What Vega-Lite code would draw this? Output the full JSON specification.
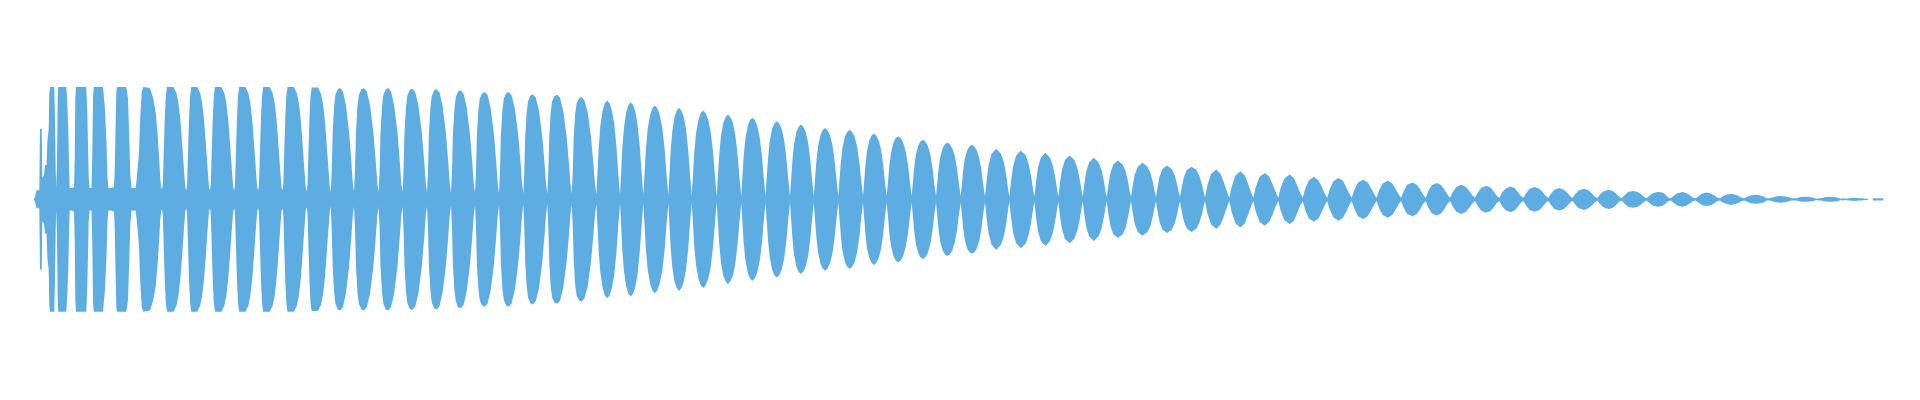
{
"$schema": "https://vega.github.io/schema/vega-lite/v6.json",
"width": 1920, "height": 400,
"autosize": {"type": "fit", "contains": "padding"},
"padding": 0,
"background": "white",
"config": {"view": {"stroke": null}},
"data": {"values": [
{"t":34,"v":0.01},{"t":35,"v":0.04},{"t":36.5,"v":0.16},{"t":39.3,"v":0.16},{"t":40,"v":1.25},{"t":41.7,"v":1.25},{"t":42.3,"v":0.39},{"t":44,"v":0.43},{"t":45,"v":0.61},{"t":46.5,"v":0.61},{"t":47.5,"v":1.07},{"t":48.7,"v":1.25},{"t":49.3,"v":1.88},{"t":50,"v":2},{"t":54.3,"v":2},{"t":55,"v":1.43},{"t":55.7,"v":0.54},{"t":56.3,"v":0.2},
{"t":57,"v":0.71},{"t":57.7,"v":1.79},{"t":58.3,"v":2},{"t":66.3,"v":2},{"t":67.3,"v":1.71},{"t":68.3,"v":1.25},{"t":69,"v":0.63},{"t":69.7,"v":0.2},{"t":72,"v":0.2},{"t":74,"v":0.22},
{"t":74.7,"v":0.71},{"t":75.3,"v":1.79},{"t":76,"v":2},{"t":86.3,"v":2},{"t":87.2,"v":1.6},{"t":88,"v":1},{"t":88.7,"v":0.4},{"t":89.5,"v":0.2},{"t":91.5,"v":0.2},
{"t":92.3,"v":0.8},{"t":93,"v":1.79},{"t":93.7,"v":2},{"t":103,"v":2},{"t":105,"v":1.6},{"t":106.5,"v":1},{"t":107.5,"v":0.4},{"t":108.3,"v":0.2},{"t":111,"v":0.2},{"t":114,"v":0.22},
{"t":114.7,"v":0.5},{"t":115.5,"v":1.25},{"t":116.3,"v":1.91},{"t":117,"v":2},{"t":126.3,"v":2},{"t":128,"v":1.79},{"t":129.3,"v":1.07},{"t":130.3,"v":0.45},{"t":131.5,"v":0.2},{"t":133.5,"v":0.2},{"t":135.5,"v":0.2},
{"t":136.7,"v":0.36},{"t":139,"v":0.84},{"t":140,"v":1.38},{"t":141.7,"v":1.91},{"t":143.3,"v":2},{"t":150,"v":1.98},{"t":153.3,"v":1.79},{"t":155.7,"v":1.55},{"t":157.7,"v":1.13},{"t":159,"v":0.77},{"t":160.3,"v":0.36},{"t":161.3,"v":0.2},{"t":162,"v":0.18},
{"t":162.8,"v":0.27},{"t":163.8,"v":0.89},{"t":164.8,"v":1.46},{"t":165.8,"v":1.84},{"t":167,"v":2},{"t":173.5,"v":2},{"t":176.5,"v":1.89},{"t":178.5,"v":1.71},{"t":180.5,"v":1.39},{"t":182.2,"v":0.98},{"t":183.8,"v":0.57},{"t":185.3,"v":0.21},{"t":186.3,"v":0.16},
{"t":187.1,"v":0.27},{"t":188.1,"v":0.89},{"t":189.1,"v":1.46},{"t":190.1,"v":1.84},{"t":191.3,"v":2},{"t":197.2,"v":2},{"t":200.2,"v":1.89},{"t":202.2,"v":1.71},{"t":204.2,"v":1.39},{"t":205.9,"v":0.98},{"t":207.5,"v":0.57},{"t":209,"v":0.21},{"t":210,"v":0.16},
{"t":210.8,"v":0.27},{"t":211.8,"v":0.89},{"t":212.8,"v":1.46},{"t":213.8,"v":1.84},{"t":215,"v":2},{"t":221.4,"v":2},{"t":224.4,"v":1.89},{"t":226.4,"v":1.71},{"t":228.4,"v":1.39},{"t":230.1,"v":0.98},{"t":231.7,"v":0.57},{"t":233.2,"v":0.21},{"t":234.2,"v":0.16},
{"t":235,"v":0.27},{"t":236,"v":0.89},{"t":237,"v":1.46},{"t":238,"v":1.84},{"t":239.2,"v":2},{"t":245.4,"v":2},{"t":248.4,"v":1.89},{"t":250.4,"v":1.71},{"t":252.4,"v":1.39},{"t":254.1,"v":0.98},{"t":255.7,"v":0.57},{"t":257.2,"v":0.21},{"t":258.2,"v":0.16},
{"t":259,"v":0.27},{"t":260,"v":0.89},{"t":261,"v":1.46},{"t":262,"v":1.84},{"t":263.2,"v":2},{"t":269.7,"v":2},{"t":272.7,"v":1.89},{"t":274.7,"v":1.71},{"t":276.7,"v":1.39},{"t":278.4,"v":0.98},{"t":280,"v":0.57},{"t":281.5,"v":0.21},{"t":282.5,"v":0.16},
{"t":283.3,"v":0.27},{"t":284.3,"v":0.89},{"t":285.3,"v":1.46},{"t":286.3,"v":1.84},{"t":287.5,"v":2},{"t":293.9,"v":2},{"t":296.9,"v":1.89},{"t":298.9,"v":1.71},{"t":300.9,"v":1.39},{"t":302.6,"v":0.98},{"t":304.2,"v":0.57},{"t":305.7,"v":0.21},{"t":306.7,"v":0.14},
{"t":307.5,"v":0.27},{"t":308.5,"v":0.89},{"t":309.5,"v":1.46},{"t":310.5,"v":1.84},{"t":311.7,"v":1.99},{"t":318,"v":1.99},{"t":321,"v":1.88},{"t":323,"v":1.7},{"t":325,"v":1.38},{"t":326.7,"v":0.97},{"t":328.3,"v":0.57},{"t":329.8,"v":0.21},{"t":330.8,"v":0.13},
{"t":331.7,"v":0.52},{"t":332.7,"v":1.19},{"t":334.1,"v":1.65},{"t":335.4,"v":1.86},{"t":337.8,"v":1.96},{"t":340.1,"v":1.98},{"t":342.9,"v":1.92},{"t":345.9,"v":1.68},{"t":349.1,"v":1.19},{"t":351.2,"v":0.71},{"t":352.8,"v":0.28},{"t":354,"v":0.13},
{"t":355,"v":0.52},{"t":356,"v":1.19},{"t":357.4,"v":1.65},{"t":358.9,"v":1.86},{"t":361.4,"v":1.96},{"t":363.8,"v":1.98},{"t":366.8,"v":1.92},{"t":370,"v":1.68},{"t":373.4,"v":1.19},{"t":375.6,"v":0.71},{"t":377.4,"v":0.28},{"t":378.6,"v":0.13},
{"t":379.6,"v":0.52},{"t":380.5,"v":1.19},{"t":382,"v":1.65},{"t":383.4,"v":1.86},{"t":385.8,"v":1.96},{"t":388.2,"v":1.98},{"t":391,"v":1.92},{"t":394.1,"v":1.68},{"t":397.5,"v":1.19},{"t":399.6,"v":0.71},{"t":401.3,"v":0.28},{"t":402.5,"v":0.13},
{"t":403.5,"v":0.51},{"t":404.5,"v":1.18},{"t":405.9,"v":1.63},{"t":407.4,"v":1.85},{"t":409.9,"v":1.95},{"t":412.3,"v":1.97},{"t":415.2,"v":1.91},{"t":418.4,"v":1.67},{"t":421.9,"v":1.18},{"t":424.1,"v":0.71},{"t":425.8,"v":0.28},{"t":427,"v":0.13},
{"t":428,"v":0.51},{"t":428.9,"v":1.17},{"t":430.4,"v":1.62},{"t":431.8,"v":1.84},{"t":434.2,"v":1.94},{"t":436.6,"v":1.96},{"t":439.5,"v":1.9},{"t":442.6,"v":1.66},{"t":446,"v":1.17},{"t":448.1,"v":0.7},{"t":449.8,"v":0.27},{"t":451,"v":0.12},
{"t":452,"v":0.5},{"t":452.9,"v":1.16},{"t":454.4,"v":1.61},{"t":455.8,"v":1.82},{"t":458.2,"v":1.92},{"t":460.6,"v":1.94},{"t":463.5,"v":1.88},{"t":466.6,"v":1.65},{"t":470,"v":1.16},{"t":472.1,"v":0.7},{"t":473.8,"v":0.27},{"t":475,"v":0.12},
{"t":476,"v":0.5},{"t":476.9,"v":1.15},{"t":478.4,"v":1.59},{"t":479.8,"v":1.8},{"t":482.2,"v":1.89},{"t":484.6,"v":1.91},{"t":487.5,"v":1.86},{"t":490.6,"v":1.63},{"t":494,"v":1.15},{"t":496.1,"v":0.69},{"t":497.8,"v":0.27},{"t":499,"v":0.11},
{"t":500,"v":0.5},{"t":500.9,"v":1.15},{"t":502.4,"v":1.59},{"t":503.9,"v":1.8},{"t":506.3,"v":1.89},{"t":508.7,"v":1.91},{"t":511.6,"v":1.85},{"t":514.8,"v":1.62},{"t":518.2,"v":1.15},{"t":520.4,"v":0.69},{"t":522.1,"v":0.27},{"t":523.3,"v":0.1},
{"t":524.3,"v":0.49},{"t":525.2,"v":1.12},{"t":526.7,"v":1.55},{"t":528.1,"v":1.75},{"t":530.5,"v":1.85},{"t":532.9,"v":1.87},{"t":535.8,"v":1.81},{"t":538.9,"v":1.59},{"t":542.3,"v":1.12},{"t":544.4,"v":0.67},{"t":546.1,"v":0.26},{"t":547.3,"v":0.1},
{"t":548.3,"v":0.48},{"t":549.3,"v":1.12},{"t":550.7,"v":1.55},{"t":552.2,"v":1.75},{"t":554.6,"v":1.84},{"t":557.1,"v":1.86},{"t":560,"v":1.81},{"t":563.2,"v":1.58},{"t":566.6,"v":1.12},{"t":568.8,"v":0.67},{"t":570.5,"v":0.26},{"t":571.7,"v":0.1},
{"t":572.7,"v":0.47},{"t":573.7,"v":1.09},{"t":575.1,"v":1.51},{"t":576.6,"v":1.71},{"t":579.1,"v":1.8},{"t":581.5,"v":1.82},{"t":584.5,"v":1.76},{"t":587.7,"v":1.55},{"t":591.1,"v":1.09},{"t":593.3,"v":0.65},{"t":595.1,"v":0.25},{"t":596.3,"v":0.09},
{"t":597.5,"v":0.49},{"t":598.7,"v":0.91},{"t":600.3,"v":1.3},{"t":602.7,"v":1.58},{"t":604.8,"v":1.71},{"t":607.2,"v":1.76},{"t":609.6,"v":1.71},{"t":611.9,"v":1.58},{"t":614.3,"v":1.34},{"t":616.4,"v":0.95},{"t":618.3,"v":0.46},{"t":620,"v":0.08},
{"t":621.2,"v":0.48},{"t":622.3,"v":0.9},{"t":624,"v":1.28},{"t":626.3,"v":1.56},{"t":628.4,"v":1.68},{"t":630.7,"v":1.73},{"t":633.1,"v":1.68},{"t":635.4,"v":1.56},{"t":637.7,"v":1.31},{"t":639.8,"v":0.93},{"t":641.7,"v":0.45},{"t":643.3,"v":0.08},
{"t":644.6,"v":0.47},{"t":645.8,"v":0.87},{"t":647.6,"v":1.24},{"t":650.1,"v":1.5},{"t":652.3,"v":1.62},{"t":654.8,"v":1.67},{"t":657.3,"v":1.62},{"t":659.8,"v":1.5},{"t":662.3,"v":1.27},{"t":664.6,"v":0.9},{"t":666.6,"v":0.43},{"t":668.3,"v":0.08},
{"t":669.5,"v":0.46},{"t":670.6,"v":0.85},{"t":672.3,"v":1.21},{"t":674.6,"v":1.47},{"t":676.7,"v":1.58},{"t":679.1,"v":1.63},{"t":681.4,"v":1.58},{"t":683.7,"v":1.47},{"t":686.1,"v":1.24},{"t":688.2,"v":0.88},{"t":690.1,"v":0.42},{"t":691.7,"v":0.07},
{"t":693,"v":0.44},{"t":694.2,"v":0.82},{"t":696,"v":1.17},{"t":698.5,"v":1.42},{"t":700.7,"v":1.53},{"t":703.2,"v":1.58},{"t":705.7,"v":1.53},{"t":708.2,"v":1.42},{"t":710.7,"v":1.2},{"t":713,"v":0.85},{"t":715,"v":0.41},{"t":716.7,"v":0.06},
{"t":717.9,"v":0.42},{"t":719.2,"v":0.78},{"t":720.9,"v":1.12},{"t":723.3,"v":1.36},{"t":725.5,"v":1.46},{"t":728,"v":1.51},{"t":730.4,"v":1.46},{"t":732.9,"v":1.36},{"t":735.3,"v":1.15},{"t":737.5,"v":0.81},{"t":739.5,"v":0.39},{"t":741.2,"v":0.06},
{"t":742.4,"v":0.41},{"t":743.6,"v":0.75},{"t":745.3,"v":1.07},{"t":747.8,"v":1.31},{"t":750,"v":1.41},{"t":752.4,"v":1.45},{"t":754.8,"v":1.41},{"t":757.2,"v":1.31},{"t":759.7,"v":1.1},{"t":761.9,"v":0.78},{"t":763.8,"v":0.38},{"t":765.5,"v":0.06},
{"t":766.7,"v":0.39},{"t":768,"v":0.72},{"t":769.7,"v":1.03},{"t":772.1,"v":1.25},{"t":774.3,"v":1.35},{"t":776.8,"v":1.39},{"t":779.2,"v":1.35},{"t":781.7,"v":1.25},{"t":784.1,"v":1.06},{"t":786.3,"v":0.75},{"t":788.3,"v":0.36},{"t":790,"v":0.06},
{"t":791.2,"v":0.37},{"t":792.4,"v":0.69},{"t":794,"v":0.98},{"t":796.4,"v":1.2},{"t":798.6,"v":1.29},{"t":801,"v":1.33},{"t":803.3,"v":1.29},{"t":805.7,"v":1.2},{"t":808.1,"v":1.01},{"t":810.2,"v":0.72},{"t":812.1,"v":0.35},{"t":813.8,"v":0.06},
{"t":815,"v":0.36},{"t":816.3,"v":0.66},{"t":818,"v":0.94},{"t":820.4,"v":1.14},{"t":822.6,"v":1.23},{"t":825.1,"v":1.27},{"t":827.5,"v":1.23},{"t":830,"v":1.14},{"t":832.4,"v":0.97},{"t":834.6,"v":0.69},{"t":836.6,"v":0.33},{"t":838.3,"v":0.06},
{"t":839.5,"v":0.35},{"t":840.8,"v":0.65},{"t":842.5,"v":0.92},{"t":845,"v":1.12},{"t":847.2,"v":1.2},{"t":849.7,"v":1.24},{"t":852.1,"v":1.2},{"t":854.6,"v":1.12},{"t":857.1,"v":0.94},{"t":859.3,"v":0.67},{"t":861.3,"v":0.32},{"t":863,"v":0.06},
{"t":864.2,"v":0.33},{"t":865.4,"v":0.61},{"t":867,"v":0.87},{"t":869.4,"v":1.05},{"t":871.5,"v":1.13},{"t":873.9,"v":1.17},{"t":876.3,"v":1.13},{"t":878.6,"v":1.05},{"t":881,"v":0.89},{"t":883.1,"v":0.63},{"t":885,"v":0.3},{"t":886.7,"v":0.06},
{"t":888,"v":0.31},{"t":889.2,"v":0.58},{"t":891,"v":0.83},{"t":893.5,"v":1.01},{"t":895.7,"v":1.09},{"t":898.2,"v":1.12},{"t":900.7,"v":1.09},{"t":903.2,"v":1.01},{"t":905.7,"v":0.85},{"t":908,"v":0.61},{"t":910,"v":0.29},{"t":911.7,"v":0.06},
{"t":912.9,"v":0.3},{"t":914.1,"v":0.55},{"t":915.8,"v":0.79},{"t":918.3,"v":0.96},{"t":920.4,"v":1.03},{"t":922.9,"v":1.06},{"t":925.3,"v":1.03},{"t":927.7,"v":0.96},{"t":930.2,"v":0.81},{"t":932.4,"v":0.57},{"t":934.3,"v":0.28},{"t":936,"v":0.06},
{"t":937.2,"v":0.28},{"t":938.5,"v":0.53},{"t":940.2,"v":0.75},{"t":942.7,"v":0.91},{"t":944.9,"v":0.98},{"t":947.4,"v":1.01},{"t":949.8,"v":0.98},{"t":952.3,"v":0.91},{"t":954.8,"v":0.77},{"t":957,"v":0.55},{"t":959,"v":0.26},{"t":960.7,"v":0.06},
{"t":961.9,"v":0.27},{"t":963.1,"v":0.51},{"t":964.8,"v":0.72},{"t":967.3,"v":0.88},{"t":969.4,"v":0.94},{"t":971.9,"v":0.97},{"t":974.3,"v":0.94},{"t":976.7,"v":0.88},{"t":979.2,"v":0.74},{"t":981.4,"v":0.53},{"t":983.3,"v":0.25},{"t":985,"v":0.05},
{"t":986.7,"v":0.34},{"t":988.6,"v":0.61},{"t":991.6,"v":0.81},{"t":996.2,"v":0.9},{"t":1001,"v":0.81},{"t":1004,"v":0.65},{"t":1006.4,"v":0.41},{"t":1008.1,"v":0.18},{"t":1009.3,"v":0.04},
{"t":1011.1,"v":0.33},{"t":1013.1,"v":0.59},{"t":1016.1,"v":0.78},{"t":1020.8,"v":0.87},{"t":1025.8,"v":0.78},{"t":1028.8,"v":0.62},{"t":1031.3,"v":0.39},{"t":1033.1,"v":0.17},{"t":1034.3,"v":0.04},
{"t":1036,"v":0.31},{"t":1037.9,"v":0.56},{"t":1040.8,"v":0.74},{"t":1045.3,"v":0.83},{"t":1050.1,"v":0.74},{"t":1053,"v":0.59},{"t":1055.4,"v":0.37},{"t":1057.1,"v":0.17},{"t":1058.3,"v":0.04},
{"t":1060,"v":0.3},{"t":1062,"v":0.53},{"t":1064.9,"v":0.7},{"t":1069.5,"v":0.78},{"t":1074.4,"v":0.7},{"t":1077.3,"v":0.56},{"t":1079.8,"v":0.35},{"t":1081.5,"v":0.16},{"t":1082.7,"v":0.04},
{"t":1084.4,"v":0.28},{"t":1086.3,"v":0.5},{"t":1089.2,"v":0.66},{"t":1093.7,"v":0.74},{"t":1098.5,"v":0.66},{"t":1101.4,"v":0.53},{"t":1103.8,"v":0.33},{"t":1105.5,"v":0.15},{"t":1106.7,"v":0.04},
{"t":1108.4,"v":0.26},{"t":1110.4,"v":0.47},{"t":1113.3,"v":0.62},{"t":1117.9,"v":0.69},{"t":1122.7,"v":0.62},{"t":1125.7,"v":0.5},{"t":1128.1,"v":0.31},{"t":1129.8,"v":0.14},{"t":1131,"v":0.04},
{"t":1132.8,"v":0.25},{"t":1134.8,"v":0.44},{"t":1137.8,"v":0.58},{"t":1142.5,"v":0.65},{"t":1147.5,"v":0.58},{"t":1150.5,"v":0.47},{"t":1153,"v":0.29},{"t":1154.8,"v":0.13},{"t":1156,"v":0.04},
{"t":1157.7,"v":0.23},{"t":1159.6,"v":0.41},{"t":1162.5,"v":0.54},{"t":1167,"v":0.6},{"t":1171.8,"v":0.54},{"t":1174.7,"v":0.43},{"t":1177.1,"v":0.27},{"t":1178.8,"v":0.12},{"t":1180,"v":0.04},
{"t":1181.8,"v":0.22},{"t":1183.8,"v":0.39},{"t":1186.8,"v":0.52},{"t":1191.5,"v":0.58},{"t":1196.5,"v":0.52},{"t":1199.5,"v":0.41},{"t":1202,"v":0.26},{"t":1203.8,"v":0.12},{"t":1205,"v":0.03},
{"t":1207.4,"v":0.25},{"t":1211.1,"v":0.45},{"t":1216.2,"v":0.53},{"t":1220.6,"v":0.45},{"t":1223.7,"v":0.31},{"t":1226.9,"v":0.14},{"t":1229.3,"v":0.03},
{"t":1231.7,"v":0.23},{"t":1235.3,"v":0.42},{"t":1240.3,"v":0.5},{"t":1244.7,"v":0.43},{"t":1247.8,"v":0.29},{"t":1250.9,"v":0.13},{"t":1253.3,"v":0.03},
{"t":1255.8,"v":0.22},{"t":1259.6,"v":0.4},{"t":1264.8,"v":0.47},{"t":1269.3,"v":0.4},{"t":1272.6,"v":0.27},{"t":1275.8,"v":0.12},{"t":1278.3,"v":0.03},
{"t":1280.7,"v":0.21},{"t":1284.4,"v":0.37},{"t":1289.5,"v":0.44},{"t":1293.9,"v":0.38},{"t":1297.1,"v":0.25},{"t":1300.3,"v":0.11},{"t":1302.7,"v":0.03},
{"t":1305.2,"v":0.19},{"t":1308.9,"v":0.34},{"t":1314,"v":0.4},{"t":1318.4,"v":0.34},{"t":1321.6,"v":0.23},{"t":1324.8,"v":0.1},{"t":1327.3,"v":0.03},
{"t":1329.7,"v":0.18},{"t":1333.4,"v":0.32},{"t":1338.5,"v":0.38},{"t":1342.9,"v":0.33},{"t":1346.1,"v":0.22},{"t":1349.3,"v":0.1},{"t":1351.7,"v":0.03},
{"t":1354.2,"v":0.16},{"t":1358,"v":0.3},{"t":1363.2,"v":0.35},{"t":1367.7,"v":0.3},{"t":1371,"v":0.2},{"t":1374.2,"v":0.09},{"t":1376.7,"v":0.03},
{"t":1379.1,"v":0.16},{"t":1382.8,"v":0.28},{"t":1387.9,"v":0.33},{"t":1392.3,"v":0.28},{"t":1395.4,"v":0.19},{"t":1398.6,"v":0.09},{"t":1401,"v":0.03},
{"t":1403.5,"v":0.14},{"t":1407.2,"v":0.26},{"t":1412.4,"v":0.3},{"t":1416.8,"v":0.26},{"t":1420,"v":0.18},{"t":1423.2,"v":0.08},{"t":1425.7,"v":0.03},
{"t":1428.1,"v":0.14},{"t":1431.8,"v":0.25},{"t":1436.9,"v":0.29},{"t":1441.3,"v":0.25},{"t":1444.4,"v":0.17},{"t":1447.6,"v":0.08},{"t":1450,"v":0.03},
{"t":1452.5,"v":0.12},{"t":1456.3,"v":0.22},{"t":1461.5,"v":0.26},{"t":1466,"v":0.22},{"t":1469.3,"v":0.15},{"t":1472.5,"v":0.07},{"t":1475,"v":0.03},
{"t":1477.4,"v":0.11},{"t":1481.1,"v":0.2},{"t":1486.2,"v":0.24},{"t":1490.6,"v":0.21},{"t":1493.7,"v":0.14},{"t":1496.9,"v":0.06},{"t":1499.3,"v":0.03},
{"t":1501.7,"v":0.11},{"t":1505.3,"v":0.19},{"t":1510.3,"v":0.23},{"t":1514.7,"v":0.2},{"t":1517.8,"v":0.13},{"t":1520.9,"v":0.06},{"t":1523.3,"v":0.03},
{"t":1525.8,"v":0.1},{"t":1529.6,"v":0.19},{"t":1534.8,"v":0.22},{"t":1539.3,"v":0.19},{"t":1542.6,"v":0.13},{"t":1545.8,"v":0.06},{"t":1548.3,"v":0.03},
{"t":1550.7,"v":0.09},{"t":1554.4,"v":0.17},{"t":1559.5,"v":0.2},{"t":1563.9,"v":0.17},{"t":1567.1,"v":0.12},{"t":1570.3,"v":0.05},{"t":1572.7,"v":0.03},
{"t":1575.2,"v":0.09},{"t":1578.9,"v":0.16},{"t":1584,"v":0.19},{"t":1588.4,"v":0.16},{"t":1591.6,"v":0.11},{"t":1594.8,"v":0.05},{"t":1597.3,"v":0.02},
{"t":1599.7,"v":0.08},{"t":1603.4,"v":0.14},{"t":1608.5,"v":0.17},{"t":1612.9,"v":0.15},{"t":1616.1,"v":0.1},{"t":1619.3,"v":0.04},{"t":1621.7,"v":0.02},
{"t":1624.2,"v":0.07},{"t":1628,"v":0.13},{"t":1633.2,"v":0.15},{"t":1637.7,"v":0.13},{"t":1641,"v":0.09},{"t":1644.2,"v":0.04},{"t":1646.7,"v":0.02},
{"t":1649.1,"v":0.06},{"t":1652.8,"v":0.11},{"t":1657.9,"v":0.13},{"t":1662.3,"v":0.12},{"t":1665.4,"v":0.08},{"t":1668.6,"v":0.03},{"t":1671,"v":0.02},
{"t":1673.5,"v":0.06},{"t":1677.2,"v":0.11},{"t":1682.4,"v":0.13},{"t":1686.8,"v":0.11},{"t":1690,"v":0.07},{"t":1693.2,"v":0.03},{"t":1695.7,"v":0.02},
{"t":1698.1,"v":0.05},{"t":1701.8,"v":0.1},{"t":1706.9,"v":0.12},{"t":1711.3,"v":0.1},{"t":1714.4,"v":0.07},{"t":1717.6,"v":0.03},{"t":1720,"v":0.02},
{"t":1722.4,"v":0.05},{"t":1726.1,"v":0.08},{"t":1731.2,"v":0.1},{"t":1735.6,"v":0.08},{"t":1738.7,"v":0.06},{"t":1741.9,"v":0.03},{"t":1744.3,"v":0.02},
{"t":1746.8,"v":0.04},{"t":1750.6,"v":0.07},{"t":1755.8,"v":0.08},{"t":1760.3,"v":0.07},{"t":1763.6,"v":0.05},{"t":1766.8,"v":0.02},{"t":1769.3,"v":0.02},
{"t":1771.8,"v":0.03},{"t":1775.5,"v":0.05},{"t":1780.7,"v":0.06},{"t":1785.1,"v":0.05},{"t":1788.3,"v":0.04},{"t":1791.5,"v":0.02},{"t":1794,"v":0.02},
{"t":1796.5,"v":0.02},{"t":1800.3,"v":0.04},{"t":1805.5,"v":0.045},{"t":1810,"v":0.04},{"t":1813.3,"v":0.03},{"t":1816.5,"v":0.01},{"t":1819,"v":0.02},
{"t":1821.4,"v":0.02},{"t":1825.1,"v":0.04},{"t":1830.2,"v":0.045},{"t":1834.6,"v":0.04},{"t":1837.7,"v":0.03},{"t":1840.9,"v":0.01},{"t":1843.3,"v":0.02},
{"t":1845.7,"v":0.01},{"t":1849.3,"v":0.02},{"t":1854.3,"v":0.03},{"t":1858.7,"v":0.02},{"t":1861.8,"v":0.02},{"t":1864.9,"v":0.01},{"t":1867.3,"v":0.01},
{"t":1868.5,"v":0},{"t":1872.5,"v":0},{"t":1873,"v":0.02},{"t":1883,"v":0.02},{"t":1883.5,"v":0}
]},
"mark": {"type": "area", "color": "#5dade2", "opacity": 1, "interpolate": "linear"},
"encoding": {
  "x": {"field": "t", "type": "quantitative", "scale": {"domain": [0, 1920], "nice": false, "zero": false}, "axis": null},
  "y": {"field": "v", "type": "quantitative", "stack": "center", "scale": {"domain": [-0.786, 2.774], "nice": false, "zero": false}, "axis": null}
}
}
